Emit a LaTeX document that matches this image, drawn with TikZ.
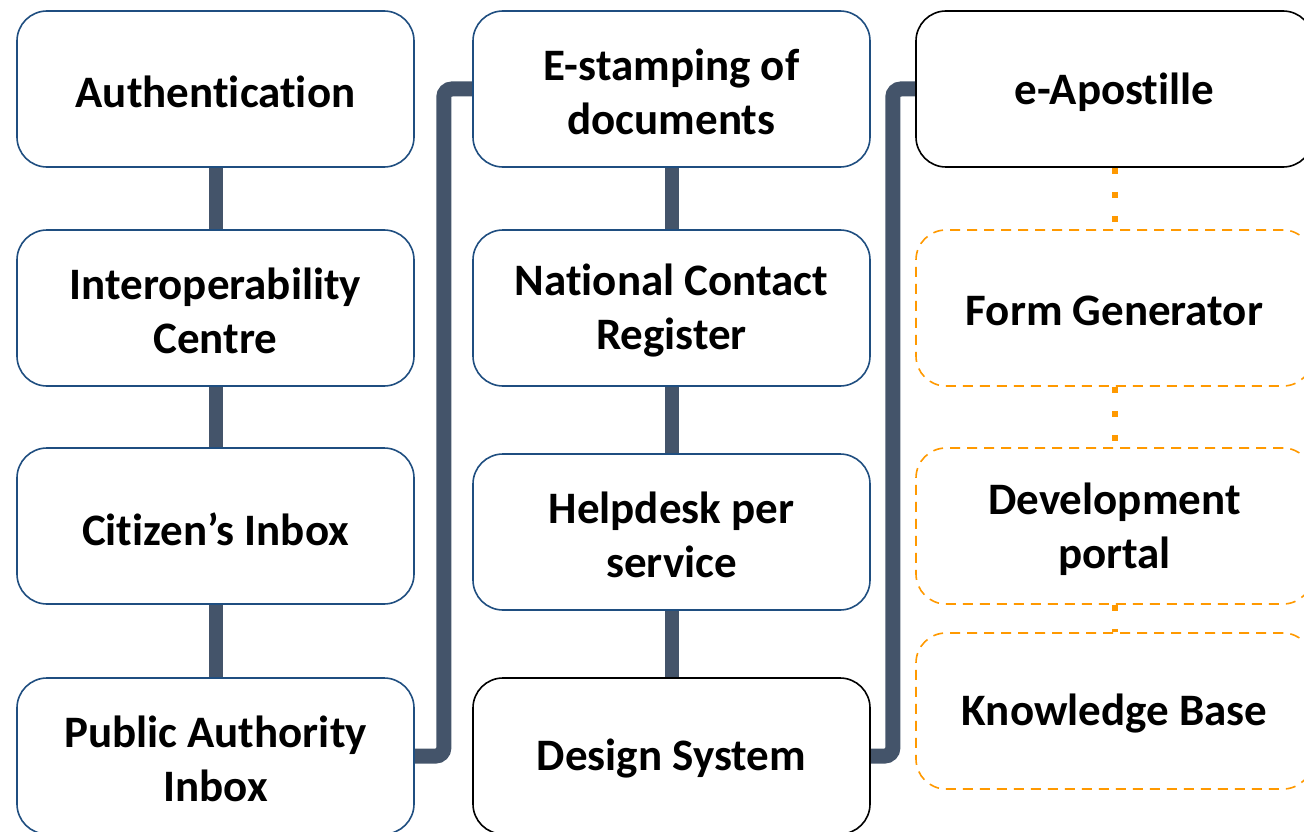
\documentclass[tikz,border=0pt]{standalone}
\usepackage{fontspec}
\setmainfont{Carlito}[Ligatures=NoCommon]
\usetikzlibrary{backgrounds}
\definecolor{boxblue}{RGB}{31,78,128}
\definecolor{conn}{RGB}{68,84,106}
\definecolor{orng}{RGB}{255,153,0}
\begin{document}
\begin{tikzpicture}[x=1pt,y=-1pt,
  box/.style={draw=boxblue, line width=1.6pt, rounded corners=30pt, fill=white,
    minimum width=397pt, minimum height=156pt, inner sep=0pt, align=center,
    font=\fontsize{45}{54}\selectfont\bfseries},
  lbl/.style={align=center, inner sep=0pt, yshift=-3pt,
    font=\fontsize{45}{54}\selectfont\bfseries},
  blackbox/.style={box, draw=black},
  dashbox/.style={box, draw=orng, dash pattern=on 10pt off 7pt},
  thick connector/.style={draw=conn, line width=14pt},
  elbow/.style={draw=conn, line width=15pt, rounded corners=8pt},
  dotconn/.style={draw=orng, line width=6pt, dash pattern=on 6pt off 18pt}]
\useasboundingbox (0,0) rectangle (1304,832);
% column 1
\node[box, label={[lbl]center:Authentication}] (auth) at (215.5,89) {};
\node[box, label={[lbl]center:Interoperability\\Centre}] (inter) at (215.5,308) {};
\node[box, label={[lbl]center:Citizen’s Inbox}] (cit) at (215.5,526) {};
\node[box, label={[lbl]center:Public Authority\\Inbox}] (pai) at (215.5,756) {};
% column 2
\node[box, label={[lbl]center:E-stamping of\\documents}] (est) at (671.5,89) {};
\node[box, label={[lbl]center:National Contact\\Register}] (ncr) at (671.5,308) {};
\node[box, label={[lbl]center:Helpdesk per\\service}] (help) at (671.5,532) {};
\node[blackbox, label={[lbl]center:Design System}] (ds) at (671.5,756) {};
% column 3
\node[blackbox, label={[lbl]center:e-Apostille}] (eap) at (1114.5,89) {};
\node[dashbox, label={[lbl]center:Form Generator}] (fg) at (1114.5,308) {};
\node[dashbox, label={[lbl]center:Development\\portal}] (dev) at (1114.5,526) {};
\node[dashbox, label={[lbl]center:Knowledge Base}] (kb) at (1114.5,711) {};
\begin{pgfonlayer}{background}
\draw[thick connector] (auth.south) -- (inter.north);
\draw[thick connector] (inter.south) -- (cit.north);
\draw[thick connector] (cit.south) -- (pai.north);
\draw[thick connector] (est.south) -- (ncr.north);
\draw[thick connector] (ncr.south) -- (help.north);
\draw[thick connector] (help.south) -- (ds.north);
\draw[elbow] (pai.east) -- ++(29,0) |- (est.west);
\draw[elbow] (ds.east) -- ++(22,0) |- (eap.west);
\end{pgfonlayer}
\draw[dotconn] (eap.south) -- (fg.north);
\draw[dotconn] (fg.south) -- (dev.north);
\draw[dotconn] (dev.south) -- (kb.north);
\end{tikzpicture}
\end{document}
